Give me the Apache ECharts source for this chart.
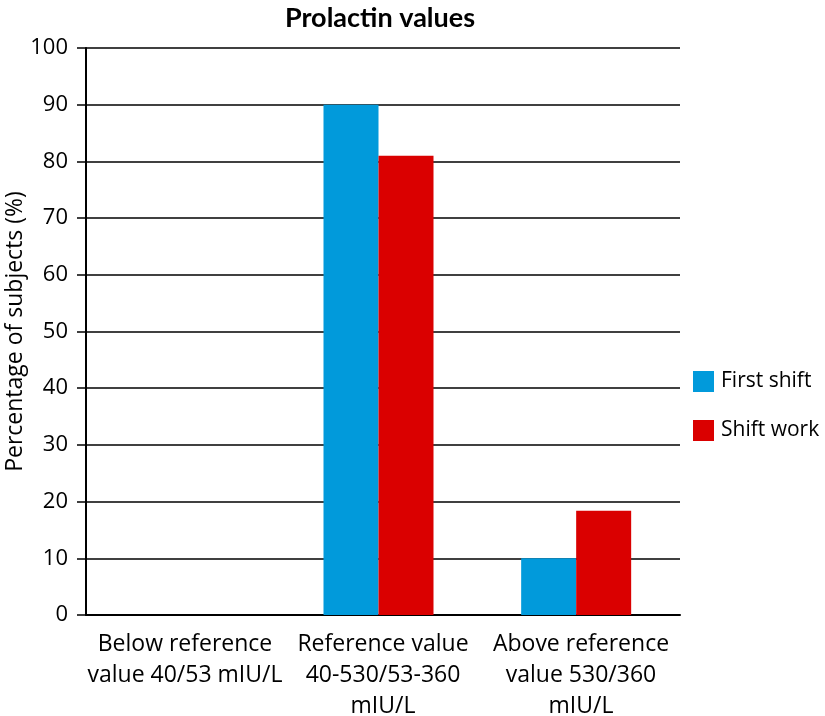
<!DOCTYPE html>
<html><head><meta charset="utf-8">
<script src="https://cdn.jsdelivr.net/npm/echarts@6/dist/echarts.min.js"></script>
<style>html,body{margin:0;padding:0;background:#fff}#c{width:825px;height:716px}</style>
</head><body><div id="c"></div>
<script>
const categories = ["Below reference\nvalue 40/53 mIU/L", "Reference value\n40-530/53-360\nmIU/L", "Above reference\nvalue 530/360\nmIU/L"];
const firstShift = [0, 90, 10];
const shiftWork = [0, 81, 18.4];
const seriesNames = ["First shift", "Shift work"];
const yTicks = {min: 0, max: 100, interval: 10};
const FONT = "'Open Sans', sans-serif";
const chart = echarts.init(document.getElementById('c'), null, {renderer: 'canvas'});
chart.setOption({
  animation: false,
  title: {text: 'Prolactin values', left: 375, top: 0, textAlign: 'center',
    textStyle: {fontFamily: "Lato, sans-serif", fontWeight: 'bold', fontSize: 27, color: '#000'}},
  legend: {orient: 'vertical', left: 688, top: 366, itemWidth: 21, itemHeight: 21, itemGap: 28,
    icon: 'rect', textStyle: {fontFamily: FONT, fontSize: 21, color: '#000', padding: [0,0,0,2]},
    data: seriesNames},
  grid: [
    {left: 86, right: 145, top: 48, bottom: 101, containLabel: false, outerBoundsMode: 'none'},
    {left: 82, right: 150, top: 48, bottom: 101, containLabel: false, outerBoundsMode: 'none'}
  ],
  xAxis: [
    {type: 'category', gridIndex: 0, data: categories,
      axisLine: {lineStyle: {color: '#000', width: 2}},
      axisTick: {show: false},
      axisLabel: {fontFamily: FONT, fontSize: 23, color: '#000', lineHeight: 31, margin: 14, interval: 0}},
    {type: 'category', gridIndex: 1, data: categories, show: false}
  ],
  yAxis: [
    {type: 'value', gridIndex: 0, min: yTicks.min, max: yTicks.max, interval: yTicks.interval,
      name: 'Percentage of subjects (%)', nameLocation: 'middle', nameGap: 59, nameMoveOverlap: false,
      nameTextStyle: {fontFamily: FONT, fontSize: 23, color: '#000'},
      axisLine: {show: true, lineStyle: {color: '#000', width: 2}},
      axisTick: {show: true, length: 9, lineStyle: {color: '#000', width: 1.5}},
      axisLabel: {fontFamily: FONT, fontSize: 22, color: '#000', margin: 18},
      splitLine: {lineStyle: {color: '#000', width: 1.5}}},
    {type: 'value', gridIndex: 1, min: yTicks.min, max: yTicks.max, interval: yTicks.interval, show: false}
  ],
  series: [
    {name: seriesNames[0], type: 'bar', xAxisIndex: 1, yAxisIndex: 1, data: firstShift, barWidth: 55, barGap: '0%',
      itemStyle: {color: '#019ADB'}},
    {name: seriesNames[1], type: 'bar', xAxisIndex: 1, yAxisIndex: 1, data: shiftWork, barWidth: 55,
      itemStyle: {color: '#DA0000'}}
  ]
});
</script></body></html>
